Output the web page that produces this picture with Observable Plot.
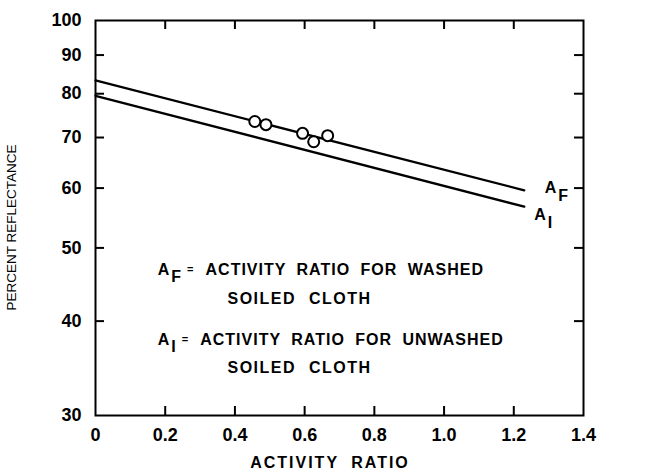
<!DOCTYPE html>
<html><head><meta charset="utf-8">
<script src="https://cdn.jsdelivr.net/npm/d3@7"></script>
<script src="https://cdn.jsdelivr.net/npm/@observablehq/plot@0.6"></script>
<style>body{margin:0;background:#fff}</style>
</head><body><div id="chart"></div>
<script>
// ---- data ----
const xTicks = [0, 0.2, 0.4, 0.6, 0.8, 1.0, 1.2, 1.4];
const xInnerTicks = [0.2, 0.4, 0.6, 0.8, 1.0, 1.2];
const yTicks = [30, 40, 50, 60, 70, 80, 90, 100];
const yInnerTicks = [40, 50, 60, 70, 80, 90];
const lineX = [0, 1.23];
const afLine = [83.3, 59.6];   // A_F line (washed)
const aiLine = [79.5, 56.7];   // A_I line (unwashed)
const pointX = [0.457, 0.489, 0.594, 0.626, 0.666];
const pointY = [73.5, 72.8, 70.9, 69.1, 70.4];

const W = 655, H = 474, mL = 95, mR = 72, mT = 20, mB = 59;
const fw = W - mL - mR, fh = H - mT - mB;

const lines = [
  ...lineX.map((x, i) => ({x, y: afLine[i], s: "AF"})),
  ...lineX.map((x, i) => ({x, y: aiLine[i], s: "AI"}))
];
const points = pointX.map((x, i) => ({x, y: pointY[i]}));

const font = "'Liberation Sans', Arial, sans-serif";
const chart = Plot.plot({
  width: W, height: H,
  marginLeft: mL, marginRight: mR, marginTop: mT, marginBottom: mB,
  style: {fontFamily: font, fontSize: "18px", fontWeight: "bold", color: "#000", background: "#fff", overflow: "visible"},
  x: {domain: [0, 1.4]},
  y: {type: "log", domain: [30, 100]},
  marks: [
    Plot.frame({stroke: "#000", strokeWidth: 2}),
    Plot.tickY(yInnerTicks, {y: d => d, insetRight: fw - 9, stroke: "#000", strokeWidth: 2}),
    Plot.tickY(yInnerTicks, {y: d => d, insetLeft: fw - 9, stroke: "#000", strokeWidth: 2}),
    Plot.tickX(xInnerTicks, {x: d => d, insetTop: fh - 9, stroke: "#000", strokeWidth: 2}),
    Plot.tickX(xInnerTicks, {x: d => d, insetBottom: fh - 9, stroke: "#000", strokeWidth: 2}),
    Plot.axisY({ticks: yTicks, tickSize: 0, tickPadding: 14, label: null, tickFormat: d => String(d)}),
    Plot.axisX({ticks: xTicks, tickSize: 0, tickPadding: 13, label: null, tickFormat: d => d === 0 ? "0" : d.toFixed(1)}),
    Plot.line(lines, {x: "x", y: "y", z: "s", stroke: "#000", strokeWidth: 2.3}),
    Plot.dot(points, {x: "x", y: "y", r: 5.5, stroke: "#000", fill: "#fff", strokeWidth: 2})
  ]
});
document.getElementById("chart").appendChild(chart);

// ---- annotations ----
const xs = chart.scale("x"), ys = chart.scale("y");
const svg = d3.select(chart);

// axis titles
svg.append("text")
  .attr("transform", `translate(16,${mT + fh / 2 + 10}) rotate(-90)`)
  .attr("text-anchor", "middle")
  .attr("font-family", font).attr("font-size", 13.5).attr("font-weight", "normal")
  .attr("fill", "#000")
  .text("PERCENT REFLECTANCE");
svg.append("text")
  .attr("x", mL + fw / 2 - 9).attr("y", H - 6)
  .attr("text-anchor", "middle")
  .attr("font-family", font).attr("font-size", 16).attr("font-weight", "bold")
  .attr("letter-spacing", 2).attr("word-spacing", 6)
  .attr("fill", "#000")
  .text("ACTIVITY RATIO");

function subLabel(x, y, main, sub) {
  const t = svg.append("text").attr("x", xs.apply(x)).attr("y", ys.apply(y))
    .attr("text-anchor", "start")
    .attr("font-family", font).attr("font-size", 16).attr("font-weight", "bold").attr("fill", "#000");
  t.append("tspan").text(main);
  t.append("tspan").attr("dx", 2).attr("dy", 8).text(sub);
  return t;
}
// line labels
subLabel(1.29, 59.0, "A", "F");
subLabel(1.26, 54.3, "A", "I");

// legend
const legend = [
  {x: 0.18, y: 46.0, sub: "F", text: "ACTIVITY RATIO FOR WASHED"},
  {x: 0.18, y: 37.1, sub: "I", text: "ACTIVITY RATIO FOR UNWASHED"}
];
const legend2 = [{x: 0.38, y: 42.1}, {x: 0.38, y: 34.1}];
legend.forEach((d, i) => {
  const t = svg.append("text").attr("x", xs.apply(d.x)).attr("y", ys.apply(d.y))
    .attr("text-anchor", "start")
    .attr("font-family", font).attr("font-size", 16).attr("font-weight", "bold")
    .attr("letter-spacing", 1).attr("word-spacing", 5).attr("fill", "#000");
  t.append("tspan").text("A");
  t.append("tspan").attr("dx", 1).attr("dy", 7).text(d.sub);
  t.append("tspan").attr("dx", 5).attr("dy", -9).attr("font-size", 11).text("=");
  t.append("tspan").attr("dx", 11).attr("dy", 2).text(d.text);
  svg.append("text").attr("x", xs.apply(legend2[i].x)).attr("y", ys.apply(legend2[i].y))
    .attr("text-anchor", "start")
    .attr("font-family", font).attr("font-size", 16).attr("font-weight", "bold")
    .attr("letter-spacing", 1.5).attr("word-spacing", 7).attr("fill", "#000")
    .text("SOILED CLOTH");
});
</script>
</body></html>
